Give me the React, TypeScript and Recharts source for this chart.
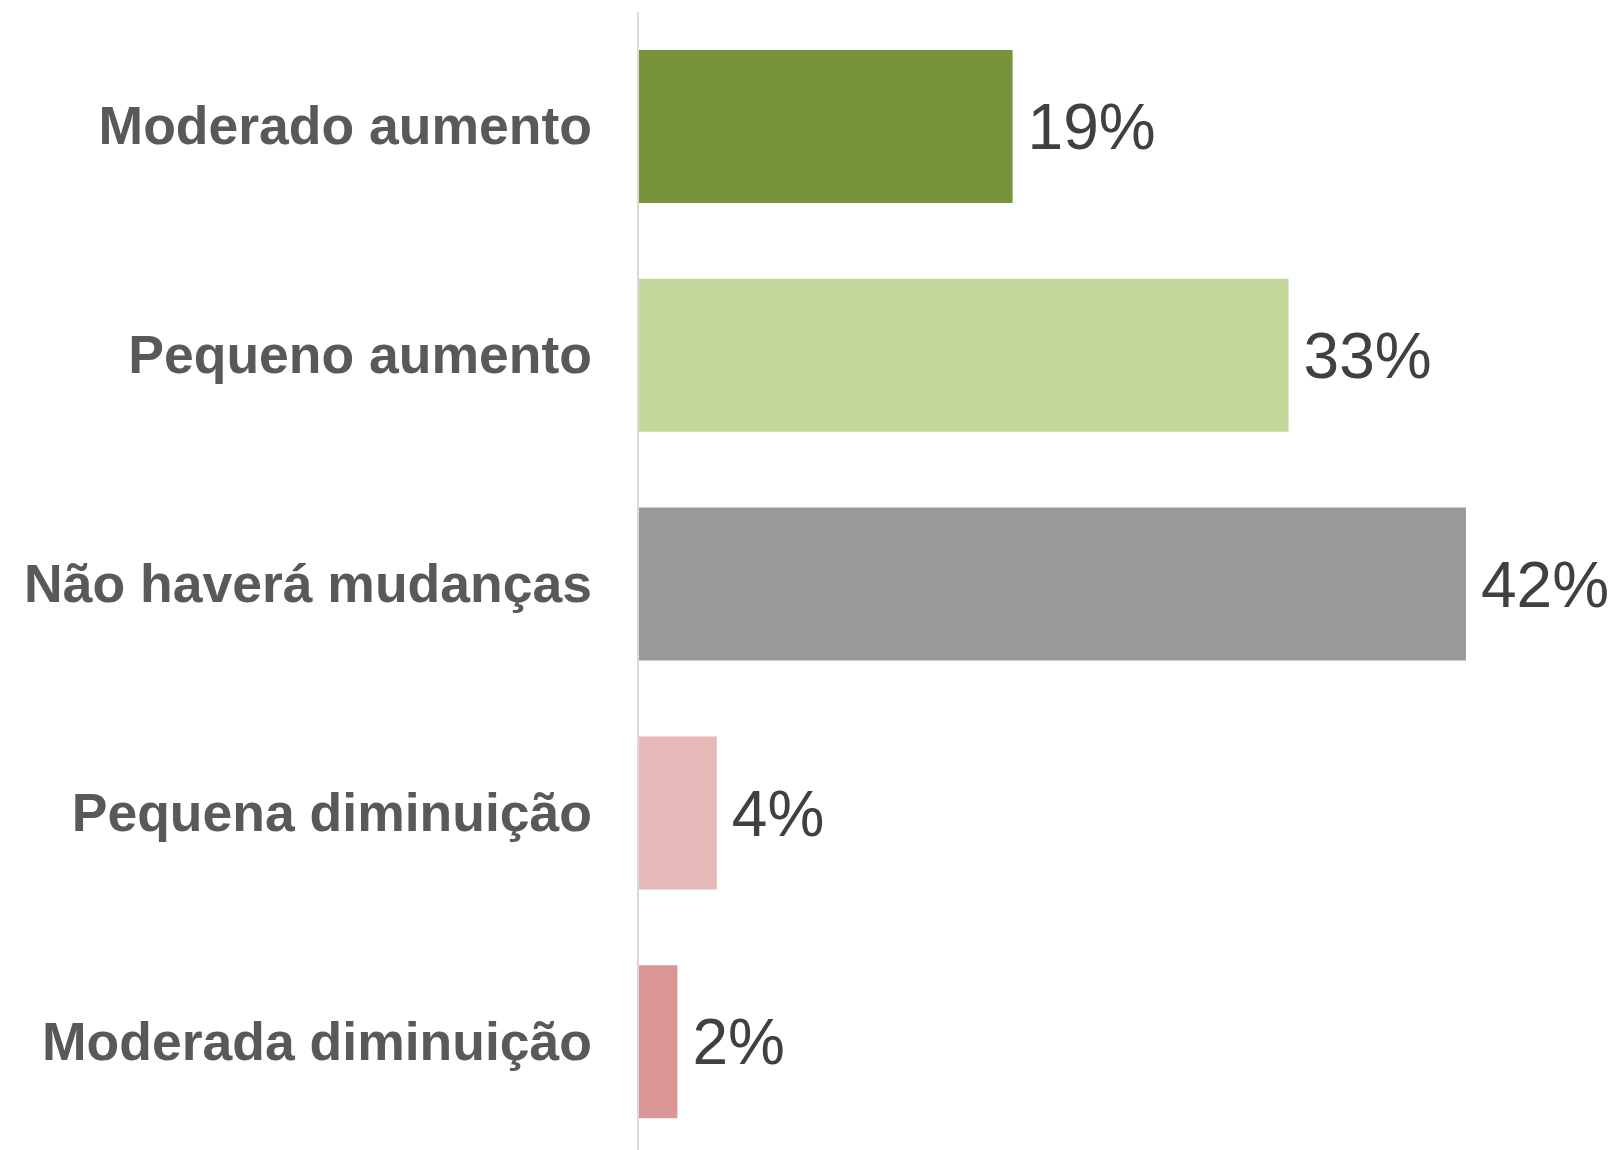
import React from 'react';
import { BarChart, Bar, XAxis, YAxis, Cell, LabelList } from 'recharts';

const categories = [
  'Moderado aumento',
  'Pequeno aumento',
  'Não haverá mudanças',
  'Pequena diminuição',
  'Moderada diminuição',
];
const values = [19, 33, 42, 4, 2];
const colors = ['#77933C', '#C4D79B', '#999999', '#E6B8B7', '#D99694'];

const data = categories.map((c, i) => ({ name: c, value: values[i] }));

const FONT = '"Liberation Sans", Arial, Helvetica, sans-serif';

export default function App() {
  return (
    <div style={{ position: 'fixed', left: 8, top: 8 }}>
      <BarChart
        width={1602}
        height={1148}
        data={data}
        layout="vertical"
        margin={{ top: 4, right: 144, bottom: 0, left: 0 }}
        barSize={153}
      >
        <XAxis type="number" domain={[0, 42]} hide />
        <YAxis
          type="category"
          dataKey="name"
          width={630}
          axisLine={{ stroke: '#D9D9D9', strokeWidth: 2 }}
          tickLine={false}
          tickSize={0}
          tickMargin={46}
          interval={0}
          tick={{ fontSize: 53.5, fontWeight: 'bold', fill: '#595959', fontFamily: FONT, dy: -1 }}
        />
        <Bar dataKey="value" isAnimationActive={false}>
          {data.map((d, i) => (
            <Cell key={d.name} fill={colors[i]} />
          ))}
          <LabelList
            dataKey="value"
            position="right"
            offset={15}
            formatter={(v: any) => `${v}%`}
            style={{ fontSize: 64, fill: '#404040', fontFamily: FONT }}
          />
        </Bar>
      </BarChart>
    </div>
  );
}
